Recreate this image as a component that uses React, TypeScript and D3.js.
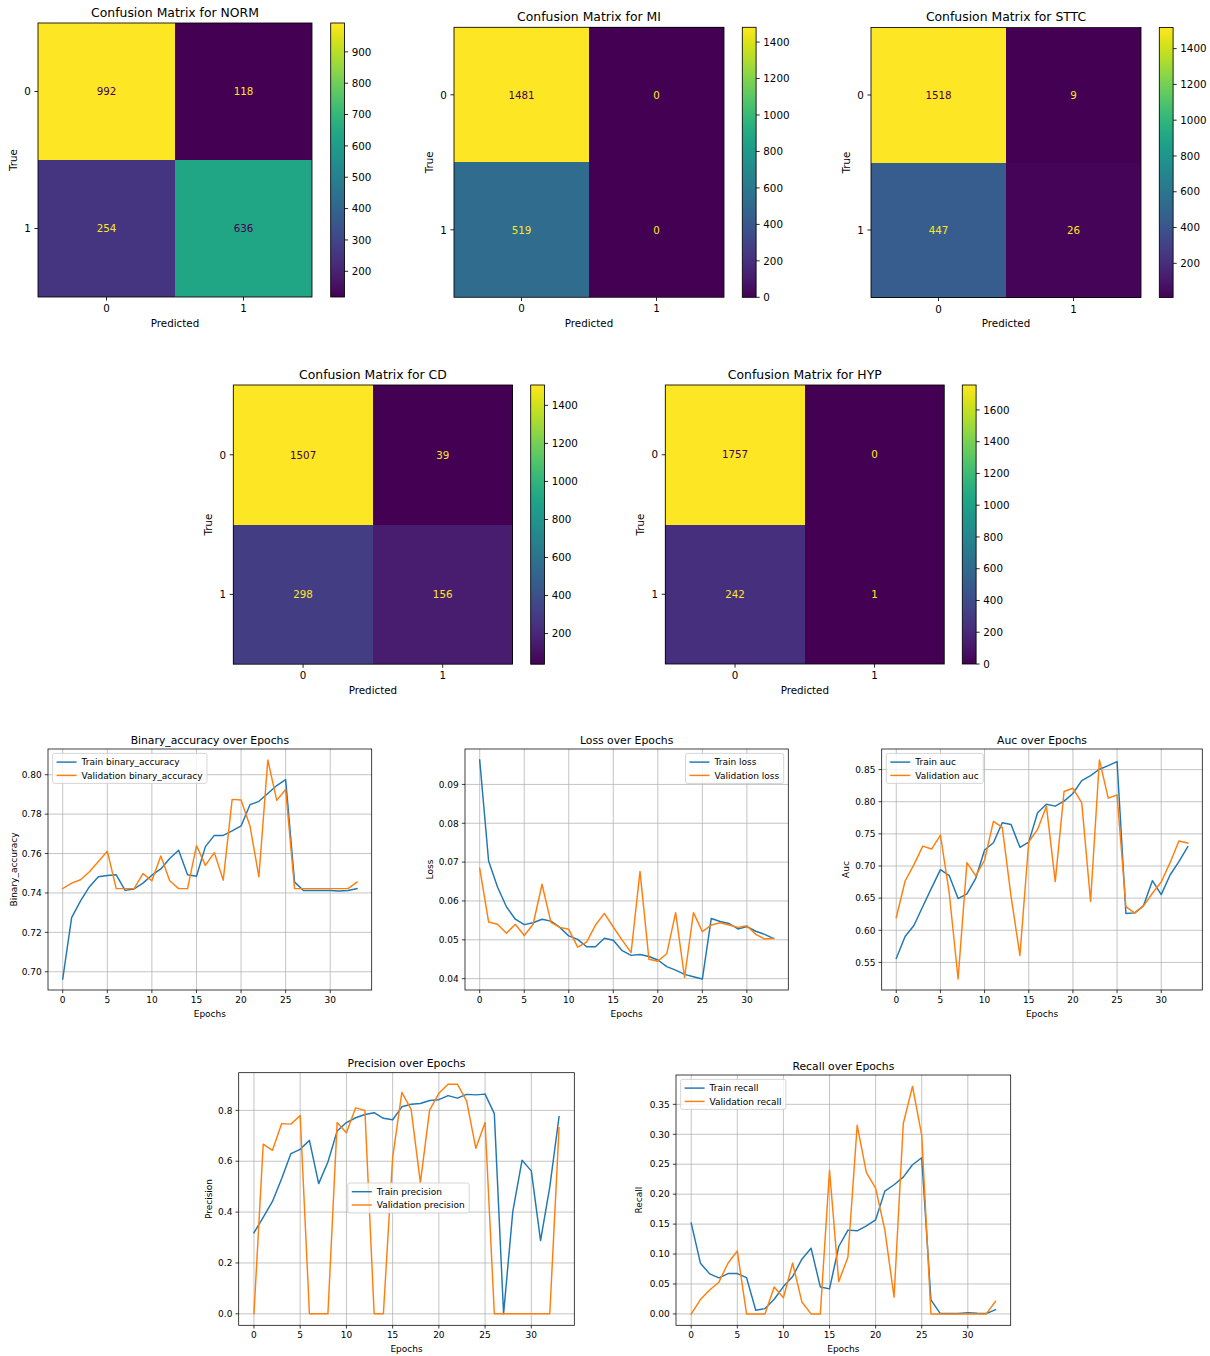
import React, { useEffect, useRef } from "react";
import * as d3 from "d3";

const FONT = "'DejaVu Sans', Verdana, sans-serif";
const WIDTH = 1210;
const HEIGHT = 1356;

// ---- Confusion matrices (rows: true label, columns: predicted label) ----
const binaryLabels = ["0", "1"];
const classNames = ["NORM", "MI", "STTC", "CD", "HYP"];

const normMatrix = [[992, 118], [254, 636]];
const miMatrix = [[1481, 0], [519, 0]];
const sttcMatrix = [[1518, 9], [447, 26]];
const cdMatrix = [[1507, 39], [298, 156]];
const hypMatrix = [[1757, 0], [242, 1]];

const normColorTicks = [200, 300, 400, 500, 600, 700, 800, 900];
const miColorTicks = [0, 200, 400, 600, 800, 1000, 1200, 1400];
const sttcColorTicks = [200, 400, 600, 800, 1000, 1200, 1400];
const cdColorTicks = [200, 400, 600, 800, 1000, 1200, 1400];
const hypColorTicks = [0, 200, 400, 600, 800, 1000, 1200, 1400, 1600];

// ---- Training history per epoch ----
const trainBinaryAccuracy = [
  0.6963, 0.7275, 0.736, 0.7432, 0.7482, 0.7489, 0.7492, 0.7413, 0.742, 0.745,
  0.749, 0.7522, 0.7575, 0.7617, 0.7492, 0.7485, 0.7635, 0.7692, 0.7692, 0.7715,
  0.774, 0.7848, 0.7865, 0.7905, 0.7945, 0.7975, 0.7455, 0.7412, 0.7412, 0.7412,
  0.7412, 0.741, 0.7412, 0.7422,
];
const valBinaryAccuracy = [
  0.7422, 0.745, 0.7467, 0.7508, 0.756, 0.7612, 0.7422, 0.7422, 0.7422, 0.7498,
  0.7462, 0.7587, 0.7462, 0.7422, 0.7422, 0.764, 0.754, 0.7605, 0.7465, 0.7875,
  0.7872, 0.774, 0.7482, 0.8075, 0.787, 0.7925, 0.7422, 0.7422, 0.7422, 0.7422,
  0.7422, 0.7422, 0.7422, 0.7455,
];
const trainLoss = [
  0.0963, 0.0703, 0.0636, 0.0585, 0.0553, 0.0539, 0.0544, 0.0553, 0.0548, 0.0532,
  0.051, 0.0501, 0.0482, 0.0482, 0.0504, 0.0499, 0.0472, 0.046, 0.0462, 0.0457,
  0.0448, 0.0431, 0.0422, 0.0411, 0.0405, 0.0399, 0.0555, 0.0547, 0.0542, 0.0528,
  0.0534, 0.0522, 0.0514, 0.0503,
];
const valLoss = [
  0.0684, 0.0546, 0.054, 0.0517, 0.054, 0.0511, 0.054, 0.0643, 0.0545, 0.0532,
  0.0527, 0.0481, 0.0494, 0.0538, 0.0568, 0.0533, 0.0499, 0.0467, 0.0676, 0.045,
  0.0445, 0.0464, 0.057, 0.0403, 0.057, 0.0521, 0.0538, 0.0544, 0.0538, 0.0532,
  0.0536, 0.0514, 0.0502, 0.0504,
];
const trainAuc = [
  0.5562, 0.5903, 0.6074, 0.6369, 0.6659, 0.6943, 0.685, 0.6493, 0.6565, 0.6809,
  0.7248, 0.7362, 0.7672, 0.7647, 0.729, 0.7372, 0.7828, 0.7962, 0.7931, 0.8009,
  0.8128, 0.8329, 0.8407, 0.8505, 0.8562, 0.8624, 0.626, 0.6271, 0.6384, 0.6772,
  0.6555, 0.686, 0.7067, 0.73,
];
const valAuc = [
  0.6198, 0.6767, 0.7021, 0.731, 0.7264, 0.7481, 0.6576, 0.5241, 0.7052, 0.6845,
  0.7093, 0.7693, 0.76, 0.6524, 0.5609, 0.7378, 0.7569, 0.7931, 0.6757, 0.8159,
  0.821, 0.7983, 0.6447, 0.865, 0.8055, 0.8107, 0.6369, 0.6266, 0.6379, 0.6576,
  0.6752, 0.7052, 0.7388, 0.7357,
];
const trainPrecision = [
  0.319, 0.379, 0.442, 0.532, 0.63, 0.647, 0.682, 0.512, 0.597, 0.719,
  0.752, 0.771, 0.784, 0.791, 0.769, 0.763, 0.814, 0.824, 0.827, 0.839,
  0.842, 0.858, 0.848, 0.863, 0.861, 0.864, 0.787, 0.0, 0.403, 0.604,
  0.562, 0.288, 0.499, 0.775,
];
const valPrecision = [
  0.0, 0.667, 0.643, 0.748, 0.746, 0.78, 0.0, 0.0, 0.0, 0.752,
  0.712, 0.81, 0.8, 0.0, 0.0, 0.614, 0.871, 0.804, 0.516, 0.801,
  0.867, 0.903, 0.903, 0.837, 0.651, 0.752, 0.0, 0.0, 0.0, 0.0,
  0.0, 0.0, 0.0, 0.732,
];
const trainRecall = [
  0.1516, 0.0847, 0.0669, 0.0602, 0.0674, 0.0674, 0.0607, 0.0061, 0.0089, 0.0245,
  0.0457, 0.0624, 0.0914, 0.1098, 0.0451, 0.0418, 0.1126, 0.1399, 0.1388, 0.1471,
  0.1572, 0.2051, 0.2157, 0.2285, 0.2491, 0.2608, 0.0234, 0.001, 0.0006, 0.0006,
  0.0022, 0.001, 0.0006, 0.0072,
];
const valRecall = [
  0.0, 0.024, 0.04, 0.053, 0.085, 0.105, 0.0, 0.0, 0.0, 0.045,
  0.027, 0.085, 0.02, 0.0, 0.0, 0.24, 0.054, 0.095, 0.315, 0.236,
  0.21, 0.14, 0.028, 0.318, 0.38, 0.298, 0.0, 0.0, 0.0, 0.0,
  0.0, 0.0, 0.0, 0.021,
];

const epochTicks = [0, 5, 10, 15, 20, 25, 30];
const binaryAccuracyTicks = [0.7, 0.72, 0.74, 0.76, 0.78, 0.8];
const lossTicks = [0.04, 0.05, 0.06, 0.07, 0.08, 0.09];
const aucTicks = [0.55, 0.6, 0.65, 0.7, 0.75, 0.8, 0.85];
const precisionTicks = [0, 0.2, 0.4, 0.6, 0.8];
const recallTicks = [0, 0.05, 0.1, 0.15, 0.2, 0.25, 0.3, 0.35];

const TRAIN_COLOR = "#1f77b4";
const VAL_COLOR = "#ff7f0e";

type MatrixPanel = {
  name: string;
  matrix: number[][];
  ticks: number[];
  x: number;
  y: number;
  size: number;
  cbX: number;
};

const matrixPanels: MatrixPanel[] = [
  { name: classNames[0], matrix: normMatrix, ticks: normColorTicks, x: 38, y: 23, size: 274, cbX: 330.7 },
  { name: classNames[1], matrix: miMatrix, ticks: miColorTicks, x: 454, y: 27.3, size: 270, cbX: 742.3 },
  { name: classNames[2], matrix: sttcMatrix, ticks: sttcColorTicks, x: 871, y: 27.5, size: 270, cbX: 1159.3 },
  { name: classNames[3], matrix: cdMatrix, ticks: cdColorTicks, x: 233.3, y: 385, size: 279.2, cbX: 530.7 },
  { name: classNames[4], matrix: hypMatrix, ticks: hypColorTicks, x: 665.3, y: 385, size: 279, cbX: 962.3 },
];

type LinePanel = {
  metric: string;
  train: number[];
  val: number[];
  yTicks: number[];
  yFormat: string;
  box: { l: number; t: number; r: number; b: number };
  legend: "upper left" | "upper right" | "center";
  ylabelOffset: number;
};

const linePanels: LinePanel[] = [
  { metric: "binary_accuracy", train: trainBinaryAccuracy, val: valBinaryAccuracy, yTicks: binaryAccuracyTicks, yFormat: ".2f",
    box: { l: 48, t: 749, r: 371.7, b: 990 }, legend: "upper left", ylabelOffset: 34.7 },
  { metric: "loss", train: trainLoss, val: valLoss, yTicks: lossTicks, yFormat: ".2f",
    box: { l: 465, t: 749, r: 788.3, b: 990 }, legend: "upper right", ylabelOffset: 35 },
  { metric: "auc", train: trainAuc, val: valAuc, yTicks: aucTicks, yFormat: ".2f",
    box: { l: 881.7, t: 749, r: 1202.3, b: 990 }, legend: "upper left", ylabelOffset: 35.7 },
  { metric: "precision", train: trainPrecision, val: valPrecision, yTicks: precisionTicks, yFormat: ".1f",
    box: { l: 238.7, t: 1072.7, r: 574.3, b: 1325.3 }, legend: "center", ylabelOffset: 30.4 },
  { metric: "recall", train: trainRecall, val: valRecall, yTicks: recallTicks, yFormat: ".2f",
    box: { l: 676, t: 1075, r: 1010.7, b: 1325.3 }, legend: "upper left", ylabelOffset: 37 },
];

const capitalize = (s: string) => s.charAt(0).toUpperCase() + s.slice(1);

function drawMatrix(root: d3.Selection<SVGGElement, unknown, null, undefined>, p: MatrixPanel, gradId: string) {
  const g = root.append("g");
  const fs = 10.3;
  const flat = p.matrix.flat();
  const vmin = d3.min(flat) as number;
  const vmax = d3.max(flat) as number;
  const color = d3.scaleSequential(d3.interpolateViridis).domain([vmin, vmax]);
  const band = d3.scaleBand<string>().domain(binaryLabels).range([0, p.size]);
  const thresh = (vmin + vmax) / 2;

  // cells first, text on top
  const cells = g.append("g").attr("shape-rendering", "crispEdges");
  const labels = g.append("g");
  p.matrix.forEach((row, i) =>
    row.forEach((v, j) => {
      const cx = p.x + (band(binaryLabels[j]) as number);
      const cy = p.y + (band(binaryLabels[i]) as number);
      cells.append("rect")
        .attr("x", cx)
        .attr("y", cy)
        .attr("width", band.bandwidth() + (j === 0 ? 0.6 : 0))
        .attr("height", band.bandwidth() + (i === 0 ? 0.6 : 0))
        .attr("fill", color(v));
      labels.append("text")
        .attr("x", cx + band.bandwidth() / 2)
        .attr("y", cy + band.bandwidth() / 2)
        .attr("dy", "0.36em")
        .attr("text-anchor", "middle")
        .attr("font-size", fs)
        .attr("fill", v < thresh ? d3.interpolateViridis(1) : d3.interpolateViridis(0))
        .text(String(v));
    })
  );
  labels.raise();

  g.append("rect")
    .attr("x", p.x)
    .attr("y", p.y)
    .attr("width", p.size)
    .attr("height", p.size)
    .attr("fill", "none")
    .attr("stroke", "#000")
    .attr("stroke-width", 0.85);

  // ticks along both axes
  binaryLabels.forEach((lab) => {
    const c = (band(lab) as number) + band.bandwidth() / 2;
    g.append("line")
      .attr("x1", p.x + c).attr("x2", p.x + c)
      .attr("y1", p.y + p.size).attr("y2", p.y + p.size + 3.6)
      .attr("stroke", "#000").attr("stroke-width", 0.85);
    g.append("text")
      .attr("x", p.x + c)
      .attr("y", p.y + p.size + 7.2)
      .attr("dy", "0.76em")
      .attr("text-anchor", "middle")
      .attr("font-size", fs)
      .attr("fill", "#000")
      .text(lab);
    g.append("line")
      .attr("x1", p.x - 3.6).attr("x2", p.x)
      .attr("y1", p.y + c).attr("y2", p.y + c)
      .attr("stroke", "#000").attr("stroke-width", 0.85);
    g.append("text")
      .attr("x", p.x - 7.2)
      .attr("y", p.y + c)
      .attr("dy", "0.36em")
      .attr("text-anchor", "end")
      .attr("font-size", fs)
      .attr("fill", "#000")
      .text(lab);
  });

  g.append("text")
    .attr("x", p.x + p.size / 2)
    .attr("y", p.y + p.size + 29.5)
    .attr("text-anchor", "middle")
    .attr("font-size", fs)
    .text("Predicted");
  g.append("text")
    .attr("transform", `translate(${p.x - 24.7},${p.y + p.size / 2}) rotate(-90)`)
    .attr("dy", "0.36em")
    .attr("text-anchor", "middle")
    .attr("font-size", fs)
    .text("True");
  g.append("text")
    .attr("x", p.x + p.size / 2)
    .attr("y", p.y - 6.3)
    .attr("text-anchor", "middle")
    .attr("font-size", 12.4)
    .text(`Confusion Matrix for ${p.name}`);

  // colorbar
  const cbW = 13.8;
  const defs = g.append("defs");
  const grad = defs
    .append("linearGradient")
    .attr("id", gradId)
    .attr("x1", 0).attr("y1", 1).attr("x2", 0).attr("y2", 0);
  d3.range(0, 1.0001, 1 / 40).forEach((t) => {
    grad.append("stop").attr("offset", t).attr("stop-color", d3.interpolateViridis(t));
  });
  g.append("rect")
    .attr("x", p.cbX)
    .attr("y", p.y)
    .attr("width", cbW)
    .attr("height", p.size)
    .attr("fill", `url(#${gradId})`)
    .attr("stroke", "#000")
    .attr("stroke-width", 0.85);
  const cy = d3.scaleLinear().domain([vmin, vmax]).range([p.y + p.size, p.y]);
  p.ticks.forEach((t) => {
    const yy = cy(t);
    g.append("line")
      .attr("x1", p.cbX + cbW).attr("x2", p.cbX + cbW + 3.6)
      .attr("y1", yy).attr("y2", yy)
      .attr("stroke", "#000").attr("stroke-width", 0.85);
    g.append("text")
      .attr("x", p.cbX + cbW + 7.2)
      .attr("y", yy)
      .attr("dy", "0.36em")
      .attr("font-size", fs)
      .text(String(t));
  });
}

function drawLineChart(root: d3.Selection<SVGGElement, unknown, null, undefined>, p: LinePanel) {
  const g = root.append("g");
  const fs = 9;
  const { l, t, r, b } = p.box;
  const n = p.train.length;
  const all = p.train.concat(p.val);
  const lo = d3.min(all) as number;
  const hi = d3.max(all) as number;
  const padY = (hi - lo) * 0.05;
  const padX = (n - 1) * 0.05;
  const x = d3.scaleLinear().domain([-padX, n - 1 + padX]).range([l, r]);
  const y = d3.scaleLinear().domain([lo - padY, hi + padY]).range([b, t]);
  const fmt = d3.format(p.yFormat);

  // grid
  epochTicks.forEach((e) => {
    g.append("line")
      .attr("x1", x(e)).attr("x2", x(e)).attr("y1", t).attr("y2", b)
      .attr("stroke", "#b0b0b0").attr("stroke-width", 0.75);
  });
  p.yTicks.forEach((v) => {
    g.append("line")
      .attr("x1", l).attr("x2", r).attr("y1", y(v)).attr("y2", y(v))
      .attr("stroke", "#b0b0b0").attr("stroke-width", 0.75);
  });

  const line = d3
    .line<number>()
    .x((_, i) => x(i))
    .y((d) => y(d));

  g.append("path")
    .attr("d", line(p.train) as string)
    .attr("fill", "none")
    .attr("stroke", TRAIN_COLOR)
    .attr("stroke-width", 1.45)
    .attr("stroke-linejoin", "round")
    .attr("stroke-linecap", "square");
  g.append("path")
    .attr("d", line(p.val) as string)
    .attr("fill", "none")
    .attr("stroke", VAL_COLOR)
    .attr("stroke-width", 1.45)
    .attr("stroke-linejoin", "round")
    .attr("stroke-linecap", "square");

  // frame
  g.append("rect")
    .attr("x", l).attr("y", t).attr("width", r - l).attr("height", b - t)
    .attr("fill", "none").attr("stroke", "#000").attr("stroke-width", 0.75);

  // ticks
  epochTicks.forEach((e) => {
    g.append("line")
      .attr("x1", x(e)).attr("x2", x(e)).attr("y1", b).attr("y2", b + 3.2)
      .attr("stroke", "#000").attr("stroke-width", 0.75);
    g.append("text")
      .attr("x", x(e))
      .attr("y", b + 6.3)
      .attr("dy", "0.76em")
      .attr("text-anchor", "middle")
      .attr("font-size", fs)
      .text(String(e));
  });
  p.yTicks.forEach((v) => {
    g.append("line")
      .attr("x1", l - 3.2).attr("x2", l).attr("y1", y(v)).attr("y2", y(v))
      .attr("stroke", "#000").attr("stroke-width", 0.75);
    g.append("text")
      .attr("x", l - 6.3)
      .attr("y", y(v))
      .attr("dy", "0.36em")
      .attr("text-anchor", "end")
      .attr("font-size", fs)
      .text(fmt(v));
  });

  g.append("text")
    .attr("x", (l + r) / 2)
    .attr("y", b + 26.5)
    .attr("text-anchor", "middle")
    .attr("font-size", fs)
    .text("Epochs");
  g.append("text")
    .attr("transform", `translate(${l - p.ylabelOffset},${(t + b) / 2}) rotate(-90)`)
    .attr("dy", "0.36em")
    .attr("text-anchor", "middle")
    .attr("font-size", fs)
    .text(capitalize(p.metric));
  g.append("text")
    .attr("x", (l + r) / 2)
    .attr("y", t - 5.4)
    .attr("text-anchor", "middle")
    .attr("font-size", 10.8)
    .text(`${capitalize(p.metric)} over Epochs`);

  // legend
  const items = [
    { label: `Train ${p.metric}`, color: TRAIN_COLOR },
    { label: `Validation ${p.metric}`, color: VAL_COLOR },
  ];
  const lg = g.append("g");
  const box = lg.append("rect");
  const texts = items.map((it) =>
    lg.append("text").attr("font-size", fs).attr("dy", "0.36em").text(it.label)
  );
  const maxW = d3.max(texts, (s) => (s.node() as SVGTextElement).getComputedTextLength()) as number;
  const bw = 4 + 20 + 5 + maxW + 4.5;
  const bh = 30;
  let bx = l + 4.6;
  let by = t + 4.4;
  if (p.legend === "upper right") bx = r - 4.6 - bw;
  if (p.legend === "center") {
    bx = (l + r) / 2 - bw / 2 + 2;
    by = (t + b) / 2 - bh / 2 - 1;
  }
  box
    .attr("x", bx).attr("y", by).attr("width", bw).attr("height", bh)
    .attr("rx", 2)
    .attr("fill", "#fff").attr("fill-opacity", 0.8)
    .attr("stroke", "#cccccc").attr("stroke-width", 0.8);
  items.forEach((it, i) => {
    const cy = by + 8.7 + i * 13.3;
    lg.append("line")
      .attr("x1", bx + 4).attr("x2", bx + 24).attr("y1", cy).attr("y2", cy)
      .attr("stroke", it.color).attr("stroke-width", 1.45);
    texts[i].attr("x", bx + 29).attr("y", cy);
  });
}

export default function App() {
  const ref = useRef<SVGSVGElement | null>(null);

  useEffect(() => {
    if (!ref.current) return;
    const svg = d3.select(ref.current);
    svg.selectAll("*").remove();
    const root = svg.append("g").attr("font-family", FONT).attr("fill", "#000");
    root.append("rect").attr("width", WIDTH).attr("height", HEIGHT).attr("fill", "#fff");
    matrixPanels.forEach((p, i) => drawMatrix(root, p, `cbar-grad-${i}`));
    linePanels.forEach((p) => drawLineChart(root, p));
  }, []);

  return (
    <svg
      ref={ref}
      width={WIDTH}
      height={HEIGHT}
      style={{ position: "absolute", left: 0, top: 0, display: "block", background: "#fff" }}
    />
  );
}
